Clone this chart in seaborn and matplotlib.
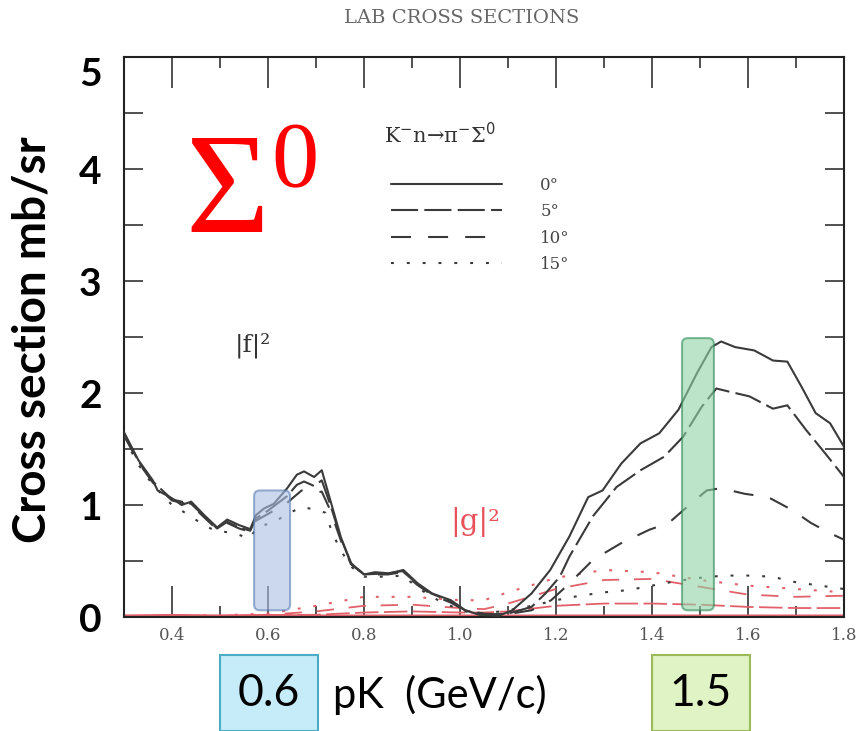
import numpy as np
import pandas as pd
import matplotlib
matplotlib.use("Agg")
import matplotlib.pyplot as plt
import seaborn as sns
from matplotlib.patches import FancyBboxPatch, Rectangle
from matplotlib.lines import Line2D

# ---------------- data ----------------
angles = ["0°", "5°", "10°", "15°"]

x_f0 = [0.30, 0.33, 0.36, 0.37, 0.40, 0.42, 0.44, 0.467, 0.494, 0.515, 0.54, 0.563, 0.575,
        0.592, 0.612, 0.64, 0.66, 0.675, 0.696, 0.712, 0.73, 0.752, 0.773, 0.80, 0.823,
        0.853, 0.882, 0.912, 0.942, 0.981, 1.011, 1.040, 1.080, 1.109, 1.149, 1.188, 1.228,
        1.267, 1.297, 1.336, 1.376, 1.415, 1.455, 1.494, 1.524, 1.544, 1.573, 1.613, 1.652,
        1.682, 1.711, 1.741, 1.771, 1.80]
y_f0 = [1.65, 1.40, 1.22, 1.13, 1.06, 1.00, 1.03, 0.91, 0.80, 0.87, 0.82, 0.785, 0.91,
        0.97, 1.01, 1.15, 1.27, 1.30, 1.25, 1.31, 1.04, 0.71, 0.48, 0.38, 0.40,
        0.39, 0.42, 0.30, 0.21, 0.15, 0.06, 0.02, 0.01, 0.06, 0.21, 0.42, 0.72,
        1.07, 1.13, 1.37, 1.55, 1.64, 1.85, 2.18, 2.41, 2.46, 2.41, 2.38, 2.29,
        2.28, 2.06, 1.82, 1.73, 1.52]

x_f5 = [0.30, 0.33, 0.36, 0.40, 0.44, 0.467, 0.494, 0.515, 0.54, 0.563, 0.575, 0.60, 0.64,
        0.66, 0.675, 0.696, 0.712, 0.73, 0.752, 0.773, 0.80, 0.85, 0.88, 0.91, 0.94, 0.98,
        1.01, 1.05, 1.10, 1.149, 1.178, 1.208, 1.228, 1.277, 1.326, 1.376, 1.425, 1.465,
        1.504, 1.534, 1.563, 1.603, 1.652, 1.682, 1.721, 1.761, 1.80]
y_f5 = [1.64, 1.39, 1.21, 1.05, 1.01, 0.90, 0.79, 0.85, 0.80, 0.77, 0.88, 0.95, 1.08,
        1.18, 1.21, 1.17, 1.22, 1.00, 0.70, 0.48, 0.38, 0.39, 0.41, 0.30, 0.21, 0.14,
        0.06, 0.02, 0.03, 0.09, 0.21, 0.36, 0.54, 0.90, 1.16, 1.31, 1.43, 1.61,
        1.88, 2.04, 2.01, 1.97, 1.86, 1.89, 1.67, 1.46, 1.25]

x_f10 = [0.30, 0.33, 0.36, 0.40, 0.44, 0.467, 0.494, 0.515, 0.54, 0.563, 0.575, 0.60, 0.64,
         0.67, 0.70, 0.712, 0.73, 0.752, 0.773, 0.80, 0.85, 0.88, 0.91, 0.94, 0.98, 1.01,
         1.05, 1.09, 1.12, 1.149, 1.19, 1.228, 1.277, 1.336, 1.395, 1.435, 1.475, 1.514,
         1.544, 1.593, 1.642, 1.692, 1.731, 1.77, 1.80]
y_f10 = [1.62, 1.38, 1.20, 1.04, 1.00, 0.89, 0.78, 0.84, 0.79, 0.76, 0.86, 0.92, 1.02,
         1.13, 1.11, 1.12, 0.95, 0.68, 0.47, 0.38, 0.38, 0.40, 0.29, 0.20, 0.13, 0.06,
         0.03, 0.02, 0.04, 0.06, 0.15, 0.30, 0.51, 0.66, 0.78, 0.84, 0.99, 1.13,
         1.15, 1.10, 1.07, 0.955, 0.84, 0.75, 0.69]

x_f15 = [0.30, 0.33, 0.36, 0.40, 0.42, 0.467, 0.49, 0.53, 0.56, 0.58, 0.61, 0.64, 0.67,
         0.70, 0.72, 0.73, 0.745, 0.77, 0.80, 0.85, 0.88, 0.91, 0.94, 0.98, 1.01, 1.05,
         1.10, 1.15, 1.20, 1.25, 1.30, 1.35, 1.40, 1.45, 1.50, 1.55, 1.60, 1.65, 1.70,
         1.75, 1.80]
y_f15 = [1.60, 1.36, 1.18, 1.00, 0.95, 0.82, 0.77, 0.75, 0.70, 0.81, 0.84, 0.92, 0.98,
         0.96, 0.93, 0.80, 0.65, 0.46, 0.36, 0.36, 0.37, 0.27, 0.18, 0.10, 0.05, 0.03,
         0.06, 0.10, 0.15, 0.19, 0.22, 0.24, 0.28, 0.32, 0.35, 0.37, 0.37, 0.36, 0.31,
         0.28, 0.25]

# |g|^2 (red)
x_g = [0.30, 0.40, 0.50, 0.60, 0.70, 0.80, 0.90, 1.00, 1.05, 1.10, 1.20, 1.30, 1.40,
       1.50, 1.60, 1.70, 1.80]
y_g0 = [0.01, 0.015, 0.01, 0.015, 0.01, 0.01, 0.01, 0.01, 0.01, 0.01, 0.01, 0.01, 0.01,
        0.01, 0.01, 0.01, 0.01]
y_g5 = [0.01, 0.01, 0.01, 0.015, 0.02, 0.04, 0.05, 0.04, 0.04, 0.05, 0.10, 0.12, 0.12,
        0.11, 0.09, 0.08, 0.08]
y_g10 = [0.01, 0.01, 0.01, 0.02, 0.05, 0.10, 0.11, 0.08, 0.07, 0.12, 0.25, 0.33, 0.34,
         0.27, 0.20, 0.18, 0.19]
y_g15 = [0.01, 0.01, 0.015, 0.03, 0.10, 0.18, 0.18, 0.15, 0.15, 0.22, 0.35, 0.42, 0.40,
         0.33, 0.28, 0.25, 0.22]

x_ticks = [0.4, 0.6, 0.8, 1.0, 1.2, 1.4, 1.6, 1.8]
y_ticks = [0, 1, 2, 3, 4, 5]
highlight_blue = (0.571, 0.646, 0.06, 1.13)   # x0, x1, y0, y1
highlight_green = (1.4625, 1.529, 0.06, 2.49)

# ---------------- styling ----------------
sns.set_theme(style="ticks")
plt.rcParams['font.family'] = ['DejaVu Serif']

W, H = 861, 731
fig = plt.figure(figsize=(W / 100, H / 100), dpi=100)
L, R, T, B = 124, 844, 57, 617
ax = fig.add_axes([L / W, 1 - B / H, (R - L) / W, (B - T) / H])

black = "#3a3a3a"
red = "#e2606a"
styles = ["-", (0, (13, 3)), (0, (9.6, 8.2)), (0, (1.4, 6.2))]

for xs, ys, st in zip([x_f0, x_f5, x_f10, x_f15], [y_f0, y_f5, y_f10, y_f15], styles):
    sns.lineplot(x=xs, y=ys, ax=ax, color=black, linewidth=1.5, linestyle=st,
                 estimator=None, sort=False, legend=False, zorder=3)

for ys, st, lw in zip([y_g0, y_g5, y_g10, y_g15], styles, [2.0, 1.3, 1.3, 1.5]):
    sns.lineplot(x=x_g, y=ys, ax=ax, color=red, linewidth=lw, linestyle=st,
                 estimator=None, sort=False, legend=False, zorder=2)

# highlight boxes
for (x0, x1, y0, y1), fc, ec in [(highlight_blue, "#a9bfe3", "#5a7db5"),
                                 (highlight_green, "#8fd3a6", "#2e8b57")]:
    p = FancyBboxPatch((x0, y0), x1 - x0, y1 - y0,
                       boxstyle="round,pad=0,rounding_size=0.012",
                       mutation_aspect=480 / 112,
                       facecolor=fc, edgecolor=ec, alpha=0.6, lw=1.5, zorder=4)
    ax.add_patch(p)

ax.set_xlim(0.3, 1.8)
ax.set_ylim(0, 5)
ax.set_xticks(x_ticks)
ax.set_xticklabels([f"{v:.1f}" for v in x_ticks])
ax.set_xticks(np.arange(0.3, 1.81, 0.1), minor=True)
ax.set_yticks(y_ticks)
ax.set_yticks(np.arange(0.5, 5.0, 1.0), minor=True)
ax.tick_params(axis='x', which='major', direction='in', length=22, width=1.2,
               top=True, bottom=True, colors="#333", labelcolor="#555", labelsize=12, pad=7)
ax.tick_params(axis='x', which='minor', direction='in', length=8, width=1.2,
               top=True, bottom=True, colors="#333")
ax.tick_params(axis='y', which='both', direction='in', length=14, width=1.2,
               left=True, right=True, colors="#333")
ax.tick_params(axis='y', which='major', labelsize=28, labelcolor="black", pad=16)
for lab in ax.get_yticklabels():
    lab.set_fontfamily("Lato")
    lab.set_fontweight("bold")
    if lab.get_text() == "5":
        lab.set_verticalalignment("top")
for lab in ax.get_xticklabels():
    lab.set_fontfamily("DejaVu Serif")
for s in ax.spines.values():
    s.set_linewidth(1.5)
    s.set_color("#222")
ax.set_xlabel("")
ax.set_ylabel("")
ax.grid(False)

# legend
handles = [Line2D([], [], color=black, lw=1.5, linestyle=st) for st in styles]
leg = ax.legend(handles, angles, loc="upper left", bbox_to_anchor=(0.371, 0.786),
                frameon=False, handlelength=6.65, handletextpad=2.3, labelspacing=0.56,
                fontsize=12, borderpad=0, borderaxespad=0)
for t in leg.get_texts():
    t.set_color("#444")
ax.text(0.361, 0.861, "K$^{-}$n→π$^{-}$Σ$^{0}$", transform=ax.transAxes, fontsize=15,
        color="#333", ha="left", va="center")

# in-plot labels
ax.text(0.179, 0.486, "|f|²", transform=ax.transAxes, fontsize=18, color="#333",
        ha="center", va="center", family="DejaVu Serif")
ax.text(0.4875, 0.17, "|g|²", transform=ax.transAxes, fontsize=21, color="#e8505a",
        ha="center", va="center", family="DejaVu Serif")

# big Sigma^0
fig.text(185 / W, 1 - 232 / H, "Σ", fontsize=104, color="#ff0000",
         family="Liberation Serif", ha="left", va="baseline")
fig.text(271 / W, 1 - 186 / H, "0", fontsize=68, color="#ff0000",
         family="Liberation Serif", ha="left", va="baseline")

# title
fig.text(462 / W, 1 - 18 / H, "LAB CROSS SECTIONS", fontsize=14, color="#666",
         family="DejaVu Serif", ha="center", va="center")

# y label
fig.text(33 / W, 1 - 340 / H, "Cross section mb/sr", rotation=90, fontsize=33,
         fontweight="bold", family="Lato", ha="center", va="center", color="black")

# bottom annotation boxes
fig.patches.append(Rectangle((220 / W, 0), 98 / W, 76 / H, transform=fig.transFigure,
                             facecolor="#c6ecfa", edgecolor="#4bacc6", lw=1.5))
fig.patches.append(Rectangle((652 / W, 0), 98 / W, 76 / H, transform=fig.transFigure,
                             facecolor="#e0f3c4", edgecolor="#9bbb59", lw=1.5))
fig.text(269 / W, 1 - 693 / H, "0.6", fontsize=32, family="Lato", ha="center",
         va="center", color="black")
fig.text(701 / W, 1 - 693 / H, "1.5", fontsize=32, family="Lato", ha="center",
         va="center", color="black")
fig.text(333 / W, 1 - 695 / H, "pK  (GeV/c)", fontsize=30, family="Lato", ha="left",
         va="center", color="black")

fig.savefig("out.png", dpi=100)
